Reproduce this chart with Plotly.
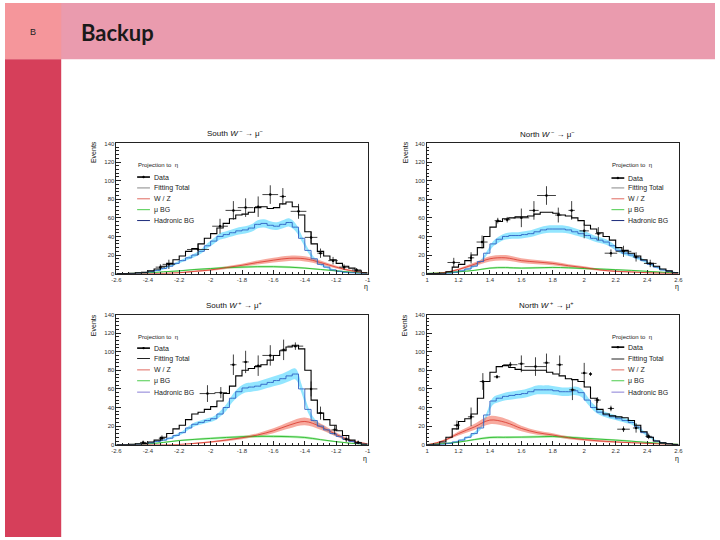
import plotly.graph_objects as go

W, H = 720, 540

# ---------------- data ----------------
SOUTH_BINS = [-2.58, -2.54, -2.50, -2.46, -2.42, -2.38, -2.34, -2.30, -2.26, -2.22,
              -2.18, -2.14, -2.10, -2.06, -2.02, -1.98, -1.94, -1.90, -1.86, -1.82,
              -1.78, -1.74, -1.70, -1.66, -1.62, -1.58, -1.54, -1.50, -1.46, -1.42,
              -1.38, -1.34, -1.30, -1.26, -1.22, -1.18, -1.14, -1.10, -1.06, -1.02]
NORTH_BINS = [1.02, 1.06, 1.10, 1.14, 1.18, 1.22, 1.26, 1.30, 1.34, 1.38,
              1.42, 1.46, 1.50, 1.54, 1.58, 1.62, 1.66, 1.70, 1.74, 1.78,
              1.82, 1.86, 1.90, 1.94, 1.98, 2.02, 2.06, 2.10, 2.14, 2.18,
              2.22, 2.26, 2.30, 2.34, 2.38, 2.42, 2.46, 2.50, 2.54, 2.58]
SOUTH_SMOOTH = [-2.6, -2.5, -2.4, -2.3, -2.2, -2.1, -2.0, -1.9, -1.8, -1.7,
                -1.6, -1.5, -1.4, -1.3, -1.2, -1.1, -1.0]
NORTH_SMOOTH = [1.0, 1.1, 1.2, 1.3, 1.4, 1.5, 1.6, 1.7, 1.8, 1.9,
                2.0, 2.1, 2.2, 2.3, 2.4, 2.5, 2.6]

SOUTH_TICKS = [-2.6, -2.4, -2.2, -2.0, -1.8, -1.6, -1.4, -1.2, -1.0]
SOUTH_TICKTEXT = ["-2.6", "-2.4", "-2.2", "-2", "-1.8", "-1.6", "-1.4", "-1.2", "-1"]
NORTH_TICKS = [1.0, 1.2, 1.4, 1.6, 1.8, 2.0, 2.2, 2.4, 2.6]
NORTH_TICKTEXT = ["1", "1.2", "1.4", "1.6", "1.8", "2", "2.2", "2.4", "2.6"]
Y_TICKS = [0, 20, 40, 60, 80, 100, 120, 140]

LEGEND_LABELS = ["Data", "Fitting Total", "W / Z", "μ BG", "Hadronic BG"]

# South W- -> mu-
SM_TOTAL = [0, 0, 0.5, 1, 1.5, 3, 5, 8, 11, 15, 19, 24, 27, 32, 38, 43, 49, 54, 59, 63,
            64, 66, 71, 72, 70, 71, 75, 77, 72, 63, 45, 32, 24, 19, 15, 11, 8, 6, 3, 1]
SM_HAD = [0, 0, 0, 0.5, 1, 2, 3.5, 5.5, 8, 11, 14, 17, 20, 24, 30, 35, 40, 42, 44, 46,
          47, 49, 53, 54, 52, 51, 53, 55, 50, 38, 25, 16, 10, 7, 4, 2.5, 1.5, 1, 0.5, 0]
SM_WZ = [0, 0, 0, 0.3, 1, 2.5, 4, 6.5, 9, 12, 14.5, 16.5, 16, 12, 7, 3, 0.5]
SM_MUBG = [0, 0.3, 0.8, 2, 3, 4.5, 5.5, 6.5, 7, 7.5, 7.5, 7, 6, 4.5, 3, 1.5, 0.5]
SM_DATA_X = [-2.32, -2.266, -2.08, -1.94, -1.855, -1.777, -1.697, -1.62, -1.54, -1.44,
             -1.36, -1.30, -1.22, -1.15, -1.07]
SM_DATA_Y = [7, 10, 26, 51, 68, 71, 72, 85, 83, 67, 39, 22, 14, 7, 4]
SM_DATA_EX = [0.03, 0.04, 0.07, 0.05, 0.05, 0.05, 0.02, 0.05, 0.02, 0.05, 0.04, 0.02, 0.03, 0.03, 0.03]
SM_DATA_EY = [3, 5, 6, 8, 10, 10, 11, 10, 9, 8, 6, 5, 4, 3, 2]

# North W- -> mu-
NM_TOTAL = [0, 0, 0.5, 2, 7, 10, 14, 20, 28, 40, 50, 56, 59, 60, 61, 61, 62, 64, 66, 66,
            65, 63, 62, 60, 57, 52, 48, 44, 40, 36, 28, 25, 22, 19, 15, 11, 8, 5, 3, 1]
NM_HAD = [0, 0, 0, 0.5, 1.5, 3, 5, 8, 13, 22, 32, 37, 40, 41, 41, 42, 43, 45, 47, 48,
          48, 48, 47, 45, 43, 41, 38, 36, 34, 30, 25, 22, 20, 17, 14, 10, 7, 4, 2.5, 1]
NM_WZ = [0, 1, 4.5, 10, 16, 17, 14, 12.5, 11, 8.5, 6.5, 4, 2.5, 1.8, 1, 0.5, 0.2]
NM_MUBG = [0.3, 1, 2, 3.5, 6, 6.5, 6, 6.3, 6.7, 6.3, 5.5, 5, 4.3, 3.5, 2.5, 1.5, 0.8]
NM_DATA_X = [1.17, 1.28, 1.35, 1.45, 1.51, 1.60, 1.68, 1.76, 1.835, 1.92, 2.00, 2.09,
             2.17, 2.25, 2.33, 2.42]
NM_DATA_Y = [12, 17, 34, 57, 58, 60, 68, 84, 63, 68, 46, 43, 22, 24, 18, 11]
NM_DATA_EX = [0.04, 0.02, 0.035, 0.02, 0.02, 0.05, 0.03, 0.06, 0.02, 0.02, 0.03, 0.02,
              0.04, 0.05, 0.02, 0.04]
NM_DATA_EY = [5, 6, 7, 3, 3, 10, 10, 10, 8, 10, 8, 7, 4, 6, 5, 4]

# South W+ -> mu+
SP_TOTAL = [0, 0, 0.5, 1, 1.5, 3, 5, 8, 12, 17, 21, 27, 33, 35, 38, 41, 47, 55, 63, 74,
            80, 82, 84, 86, 91, 96, 101, 105, 107, 103, 80, 48, 34, 27, 21, 15, 10, 5, 2, 0.5]
SP_HAD = [0, 0, 0, 0.5, 1, 2, 3.5, 5, 7, 10, 13, 18, 22, 24, 26, 28, 33, 40, 50, 57,
          61, 62, 63, 65, 67, 69, 71, 74, 76, 60, 38, 26, 20, 16, 12, 9, 6, 3.5, 1.5, 0.5]
SP_WZ = [0, 0, 0, 0, 0.3, 1.5, 3, 5, 7.5, 10.5, 15, 21, 25, 19.5, 11, 4, 1]
SP_MUBG = [0, 0.3, 0.8, 2.5, 4.5, 5.8, 6.8, 7.8, 8.6, 9, 9, 8.7, 7.8, 5.5, 3.3, 1.5, 0.4]
SP_DATA_X = [-2.43, -2.31, -2.02, -1.935, -1.855, -1.777, -1.697, -1.62, -1.535, -1.46,
             -1.36, -1.30, -1.21, -1.136, -1.06]
SP_DATA_Y = [2.5, 7, 55, 56, 86, 89, 85, 96, 102, 106, 60, 34, 16, 6, 2.5]
SP_DATA_EX = [0.02, 0.02, 0.05, 0.04, 0.02, 0.02, 0.02, 0.05, 0.02, 0.05, 0.04, 0.02, 0.02, 0.02, 0.02]
SP_DATA_EY = [2, 3, 9, 6, 11, 12, 11, 11, 11, 4, 8, 7, 5, 3, 2]

# North W+ -> mu+
NP_TOTAL = [0, 0.5, 3, 8, 17, 25, 28, 33, 50, 68, 78, 84, 85, 83, 81, 80, 80, 80, 80, 78,
            76, 74, 71, 70, 68, 62, 50, 38, 33, 31, 30, 29, 26, 21, 14, 8, 4, 2, 1, 0.3]
NP_HAD = [0, 0, 0.5, 1.5, 3, 5, 8, 12, 18, 32, 47, 50, 52, 53, 54, 55, 57, 59, 59, 59,
          58, 57, 57, 58, 56, 48, 40, 35, 32, 30, 28, 26, 24, 19, 13, 8, 4, 2, 1, 0.3]
NP_WZ = [0, 4, 12, 19, 26.5, 24, 17.5, 13, 10.5, 7.5, 5.5, 4, 3, 2.2, 1.5, 0.8, 0.3]
NP_MUBG = [0.3, 1.2, 2.8, 5.5, 7.8, 8, 8.2, 8.5, 8.9, 8, 7, 6, 5, 3.8, 2.5, 1.3, 0.5]
NP_DATA_X = [1.19, 1.28, 1.355, 1.445, 1.53, 1.60, 1.69, 1.76, 1.844, 1.925, 2.00, 2.04,
             2.085, 2.17, 2.25, 2.33, 2.41]
NP_DATA_Y = [21, 30, 68, 73, 86, 87, 84, 88, 86, 59, 77, 76, 48, 39, 16.7, 18, 9]
NP_DATA_EX = [0.02, 0.02, 0.02, 0.02, 0.045, 0.02, 0.07, 0.02, 0.02, 0.02, 0.02, 0.01,
              0.02, 0.02, 0.04, 0.02, 0.02]
NP_DATA_EY = [5, 10, 9, 2, 3, 9, 10, 10, 10, 11, 11, 2, 3, 3, 3, 5, 3]

# ---------------- styling ----------------
FONT = "Liberation Sans, Arial, sans-serif"
BLUE = "#2f62c4"
CYAN_BAND = "rgba(40,205,255,0.50)"
RED = "#d8352a"
RED_BAND = "rgba(240,100,80,0.55)"
GREEN = "#2db82d"
GREEN_BAND = "rgba(90,225,90,0.45)"
BAND_HAD, BAND_WZ, BAND_MU = 0.07, 0.15, 0.12
BIN_HALF = 0.02


def P(x, y):
    return x / W, 1 - y / H


panels = [
    dict(n=1, box=(113.0, 367.7, 142.0, 273.7), bins=SOUTH_BINS, smooth=SOUTH_SMOOTH,
         ticks=SOUTH_TICKS, ticktext=SOUTH_TICKTEXT, rng=[-2.6, -1.0],
         total=SM_TOTAL, had=SM_HAD, wz=SM_WZ, mu=SM_MUBG,
         dx=SM_DATA_X, dy=SM_DATA_Y, dex=SM_DATA_EX, dey=SM_DATA_EY,
         title="South <i>W</i><sup> −</sup> → μ<sup>−</sup>", title_pos=(233, 131.5),
         ev=(90, 151), eta=(366, 287), leg=(134, 164, [176, 187, 198, 209, 220]),
         legcol=["#000", "#888", "#e06a60", "#4ccc4c", "#1b2a7a"]),
    dict(n=2, box=(428.0, 683.0, 142.0, 273.7), bins=NORTH_BINS, smooth=NORTH_SMOOTH,
         ticks=NORTH_TICKS, ticktext=NORTH_TICKTEXT, rng=[1.0, 2.6],
         total=NM_TOTAL, had=NM_HAD, wz=NM_WZ, mu=NM_MUBG,
         dx=NM_DATA_X, dy=NM_DATA_Y, dex=NM_DATA_EX, dey=NM_DATA_EY,
         title="North <i>W</i><sup> −</sup> → μ<sup>−</sup>", title_pos=(550, 132.5),
         ev=(405.5, 151), eta=(681, 287), leg=(615, 164, [177, 187, 198, 209, 220]),
         legcol=["#000", "#888", "#e06a60", "#4ccc4c", "#1b2a7a"]),
    dict(n=3, box=(113.0, 367.7, 315.0, 446.7), bins=SOUTH_BINS, smooth=SOUTH_SMOOTH,
         ticks=SOUTH_TICKS, ticktext=SOUTH_TICKTEXT, rng=[-2.6, -1.0],
         total=SP_TOTAL, had=SP_HAD, wz=SP_WZ, mu=SP_MUBG,
         dx=SP_DATA_X, dy=SP_DATA_Y, dex=SP_DATA_EX, dey=SP_DATA_EY,
         title="South <i>W</i><sup> +</sup> → μ<sup>+</sup>", title_pos=(232, 305.5),
         ev=(90, 326), eta=(365, 461), leg=(134, 338, [349, 359.5, 371, 382, 393.5]),
         legcol=["#000", "#222", "#e06a60", "#4ccc4c", "#8a7fd6"]),
    dict(n=4, box=(428.0, 683.0, 315.0, 446.7), bins=NORTH_BINS, smooth=NORTH_SMOOTH,
         ticks=NORTH_TICKS, ticktext=NORTH_TICKTEXT, rng=[1.0, 2.6],
         total=NP_TOTAL, had=NP_HAD, wz=NP_WZ, mu=NP_MUBG,
         dx=NP_DATA_X, dy=NP_DATA_Y, dex=NP_DATA_EX, dey=NP_DATA_EY,
         title="North <i>W</i><sup> +</sup> → μ<sup>+</sup>", title_pos=(549, 305.5),
         ev=(405.5, 326), eta=(681, 461), leg=(615, 338, [348, 360, 371, 382, 393.5]),
         legcol=["#000", "#222", "#e06a60", "#4ccc4c", "#8a7fd6"]),
]

fig = go.Figure()
shapes = []
annotations = []


def band(fig, xs, ys, frac, color, xa, ya, add=0.3):
    lo = [max(v * (1 - frac) - add * (v > 0), 0) for v in ys]
    hi = [v * (1 + frac) + add * (v > 0) for v in ys]
    fig.add_trace(go.Scatter(x=xs, y=lo, mode="lines", line=dict(width=0, shape="spline"),
                             xaxis=xa, yaxis=ya, showlegend=False, hoverinfo="skip"))
    fig.add_trace(go.Scatter(x=xs, y=hi, mode="lines", line=dict(width=0, shape="spline"),
                             fill="tonexty", fillcolor=color,
                             xaxis=xa, yaxis=ya, showlegend=False, hoverinfo="skip"))


layout_axes = {}
for p in panels:
    n = p["n"]
    xa = "x" if n == 1 else f"x{n}"
    ya = "y" if n == 1 else f"y{n}"
    l, r, t, b = p["box"]
    x0, y1 = P(l, t)
    x1, y0 = P(r, b)

    edges_x = [p["bins"][0] - BIN_HALF] + p["bins"] + [p["bins"][-1] + BIN_HALF]

    band(fig, p["bins"], p["had"], BAND_HAD, CYAN_BAND, xa, ya, add=0.6)
    band(fig, p["smooth"], p["wz"], BAND_WZ, RED_BAND, xa, ya, add=0.4)
    band(fig, p["smooth"], p["mu"], BAND_MU, GREEN_BAND, xa, ya, add=0.3)

    fig.add_trace(go.Scatter(x=p["smooth"], y=p["mu"], mode="lines",
                             line=dict(color=GREEN, width=0.9, shape="spline"),
                             xaxis=xa, yaxis=ya, showlegend=False))
    fig.add_trace(go.Scatter(x=p["smooth"], y=p["wz"], mode="lines",
                             line=dict(color=RED, width=0.8, shape="spline"),
                             xaxis=xa, yaxis=ya, showlegend=False))
    fig.add_trace(go.Scatter(x=edges_x, y=[p["had"][0]] + p["had"] + [p["had"][-1]],
                             mode="lines", line=dict(color=BLUE, width=0.9, shape="hvh"),
                             xaxis=xa, yaxis=ya, showlegend=False))
    fig.add_trace(go.Scatter(x=edges_x, y=[p["total"][0]] + p["total"] + [p["total"][-1]],
                             mode="lines", line=dict(color="#000", width=1.1, shape="hvh"),
                             xaxis=xa, yaxis=ya, showlegend=False))
    fig.add_trace(go.Scatter(x=p["dx"], y=p["dy"], mode="markers",
                             marker=dict(color="#000", size=2.5),
                             error_x=dict(type="data", array=p["dex"], width=0, thickness=0.8, color="#111"),
                             error_y=dict(type="data", array=p["dey"], width=0, thickness=0.8, color="#111"),
                             xaxis=xa, yaxis=ya, showlegend=False))

    axis_common = dict(showgrid=False, zeroline=False, showline=True, linecolor="#222",
                       linewidth=0.8, mirror=True, ticks="inside", tickwidth=0.6,
                       tickcolor="#222", tickfont=dict(family=FONT, size=6, color="#333"))
    layout_axes["xaxis" if n == 1 else f"xaxis{n}"] = dict(
        axis_common, domain=[x0, x1], anchor=ya, range=p["rng"], tickvals=p["ticks"],
        ticktext=p["ticktext"], ticklen=4,
        minor=dict(ticks="inside", ticklen=2, tickwidth=0.5, tickcolor="#222",
                   dtick=0.04, tick0=p["rng"][0]))
    layout_axes["yaxis" if n == 1 else f"yaxis{n}"] = dict(
        axis_common, domain=[y0, y1], anchor=xa, range=[0, 140], tickvals=Y_TICKS,
        ticklen=5,
        minor=dict(ticks="inside", ticklen=2.5, tickwidth=0.5, tickcolor="#222",
                   dtick=4, tick0=0))

    tx, ty = P(*p["title_pos"])
    annotations.append(dict(x=tx, y=ty, xref="paper", yref="paper", text=p["title"],
                            showarrow=False, font=dict(family=FONT, size=8, color="#111"),
                            xanchor="center", yanchor="middle"))
    ex_, ey_ = P(*p["ev"])
    annotations.append(dict(x=ex_, y=ey_, xref="paper", yref="paper", text="Events",
                            textangle=-90, showarrow=False,
                            font=dict(family=FONT, size=7, color="#111"),
                            xanchor="center", yanchor="middle"))
    hx, hy = P(*p["eta"])
    annotations.append(dict(x=hx, y=hy, xref="paper", yref="paper", text="η",
                            showarrow=False, font=dict(family=FONT, size=7, color="#111"),
                            xanchor="center", yanchor="middle"))

    lx, lhy, lys = p["leg"]
    hx, hy = P(lx - 1, lhy)
    annotations.append(dict(x=hx, y=hy, xref="paper", yref="paper", text="Projection to  η",
                            showarrow=False, font=dict(family=FONT, size=6, color="#222"),
                            xanchor="left", yanchor="middle"))
    for i, (lab, col, yy) in enumerate(zip(LEGEND_LABELS, p["legcol"], lys)):
        ax0, ay = P(lx, yy)
        ax1, _ = P(lx + 13, yy)
        wid = 1.6 if i == 0 else 1.0
        shapes.append(dict(type="line", xref="paper", yref="paper", x0=ax0, x1=ax1,
                           y0=ay, y1=ay, line=dict(color=col, width=wid)))
        if i == 0:
            cx, cy = P(lx + 6.5, yy)
            r = 1.2
            shapes.append(dict(type="circle", xref="paper", yref="paper",
                               x0=cx - r / W, x1=cx + r / W, y0=cy - r / H, y1=cy + r / H,
                               fillcolor="#000", line=dict(width=0)))
        tx, ty = P(lx + 15, yy)
        annotations.append(dict(x=tx, y=ty, xref="paper", yref="paper", text=lab,
                                showarrow=False, font=dict(family=FONT, size=7, color="#222"),
                                xanchor="left", yanchor="middle"))

shapes = [
    dict(type="rect", xref="paper", yref="paper", x0=0, x1=1, y0=1 - 57 / H, y1=1,
         fillcolor="#EA9BAE", line=dict(width=0), layer="below"),
    dict(type="rect", xref="paper", yref="paper", x0=0, x1=57 / W, y0=1 - 57 / H, y1=1,
         fillcolor="#F5969B", line=dict(width=0), layer="below"),
    dict(type="rect", xref="paper", yref="paper", x0=0, x1=57 / W, y0=0, y1=1 - 57 / H,
         fillcolor="#D63F5A", line=dict(width=0), layer="below"),
] + shapes

bx, by = P(28.5, 29)
annotations.append(dict(x=bx, y=by, xref="paper", yref="paper", text="B", showarrow=False,
                        font=dict(family=FONT, size=9, color="#222"),
                        xanchor="center", yanchor="middle"))
kx, ky = P(75, 30)
annotations.append(dict(x=kx, y=ky, xref="paper", yref="paper", text="<b>Backup</b>",
                        showarrow=False, font=dict(family="Lato, Open Sans, sans-serif",
                                                    size=22, color="#1a1a1a"),
                        xanchor="left", yanchor="middle"))

fig.update_layout(width=W, height=H, margin=dict(l=0, r=0, t=0, b=0),
                  paper_bgcolor="white", plot_bgcolor="white", showlegend=False,
                  shapes=shapes, annotations=annotations, **layout_axes)

fig.write_html("out.html",
               config={"displayModeBar": False},
               post_script="document.documentElement.style.margin='0px';"
                           "document.body.style.margin='0px';"
                           "document.body.style.padding='0px';"
                           "document.body.style.overflow='hidden';"
                           "var gd=document.getElementById('{plot_id}');"
                           "gd.style.position='fixed';gd.style.left='0px';gd.style.top='0px';")
